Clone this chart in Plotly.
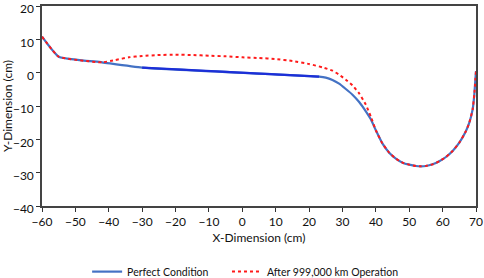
import plotly.graph_objects as go

# Perfect condition profile
perfect_x = [-60, -55, -42, -30, 23, 25, 27, 29, 31, 33, 35, 37, 38.5, 40, 42, 44, 46, 48, 50, 52, 53.5, 55, 57, 59, 61, 63, 65, 67, 68, 69, 69.5, 70]
perfect_y = [10.8, 4.8, 3.1, 1.5, -1.2, -1.5, -2.2, -3.3, -4.9, -6.6, -8.8, -11.6, -14.0, -17.3, -21.3, -24.0, -25.8, -27.0, -27.6, -28.0, -28.1, -28.0, -27.5, -26.6, -25.3, -23.5, -21.0, -17.5, -15.0, -11.0, -6.5, 0.5]

# Darker straight segment of the perfect profile
flat_x = [-30, 23]
flat_y = [1.5, -1.2]

# After 999,000 km operation
worn_x = [-60, -55, -42, -38, -34, -30, -25, -20, -15, -10, -5, 0, 5, 10, 15, 20, 24, 27, 29, 31, 33, 35, 37, 38.5, 40, 42, 44, 46, 48, 50, 52, 53.5, 55, 57, 59, 61, 63, 65, 67, 68, 69, 69.5, 70]
worn_y = [10.8, 4.8, 3.1, 3.8, 4.6, 5.0, 5.3, 5.4, 5.3, 5.1, 4.9, 4.6, 4.4, 4.1, 3.5, 2.6, 1.6, 0.6, -0.6, -2.1, -3.8, -6.2, -9.6, -13.2, -17.3, -21.3, -24.0, -25.8, -27.0, -27.6, -28.0, -28.1, -28.0, -27.5, -26.6, -25.3, -23.5, -21.0, -17.5, -15.0, -11.0, -6.5, 0.5]

x_ticks = [-60, -50, -40, -30, -20, -10, 0, 10, 20, 30, 40, 50, 60, 70]
y_ticks = [20, 10, 0, -10, -20, -30, -40]

font = "Lato, 'Open Sans', sans-serif"

fig = go.Figure()
fig.add_trace(go.Scatter(x=perfect_x, y=perfect_y, mode="lines", name="Perfect Condition",
                         legend="legend",
                         line=dict(color="#4472C4", width=2.2, shape="spline", smoothing=0.4)))
fig.add_trace(go.Scatter(x=flat_x, y=flat_y, mode="lines", showlegend=False, hoverinfo="skip",
                         line=dict(color="#1C2FD8", width=2.2)))
fig.add_trace(go.Scatter(x=worn_x, y=worn_y, mode="lines", name="After 999,000 km Operation",
                         legend="legend2",
                         line=dict(color="#FF1A1A", width=2, dash="dot", shape="spline", smoothing=0.4)))

legend_common = dict(orientation="h", xref="container", yref="container", xanchor="left",
                     y=0.023, yanchor="middle", font=dict(size=10.5, color="#111"),
                     bgcolor="rgba(0,0,0,0)")

fig.update_layout(
    width=484, height=278,
    margin=dict(l=42, r=8, t=6, b=72),
    paper_bgcolor="white", plot_bgcolor="white",
    font=dict(family=font, size=12, color="#111"),
    showlegend=True,
    legend=dict(x=0.18, **legend_common),
    legend2=dict(x=0.469, **legend_common),
)
fig.update_xaxes(range=[-60, 70], tickvals=x_ticks, ticks="outside", ticklen=4, tickcolor="#333",
                 ticklabeloverflow="allow", automargin=False,
                 showline=True, linecolor="#444", linewidth=1.5, mirror=True, showgrid=False,
                 zeroline=False, title=dict(text="X-Dimension (cm)", standoff=5, font=dict(size=12)))
fig.update_yaxes(range=[-40, 20], tickvals=y_ticks, ticks="outside", ticklen=4, tickcolor="#333",
                 ticklabeloverflow="allow", automargin=False, ticklabelshift=3,
                 showline=True, linecolor="#444", linewidth=1.5, mirror=True, showgrid=False,
                 zeroline=False, title=dict(text="Y-Dimension (cm)", standoff=4, font=dict(size=12)))

fig.write_html("out.html", config={"displayModeBar": False},
               post_script="document.body.style.margin='0px';")
